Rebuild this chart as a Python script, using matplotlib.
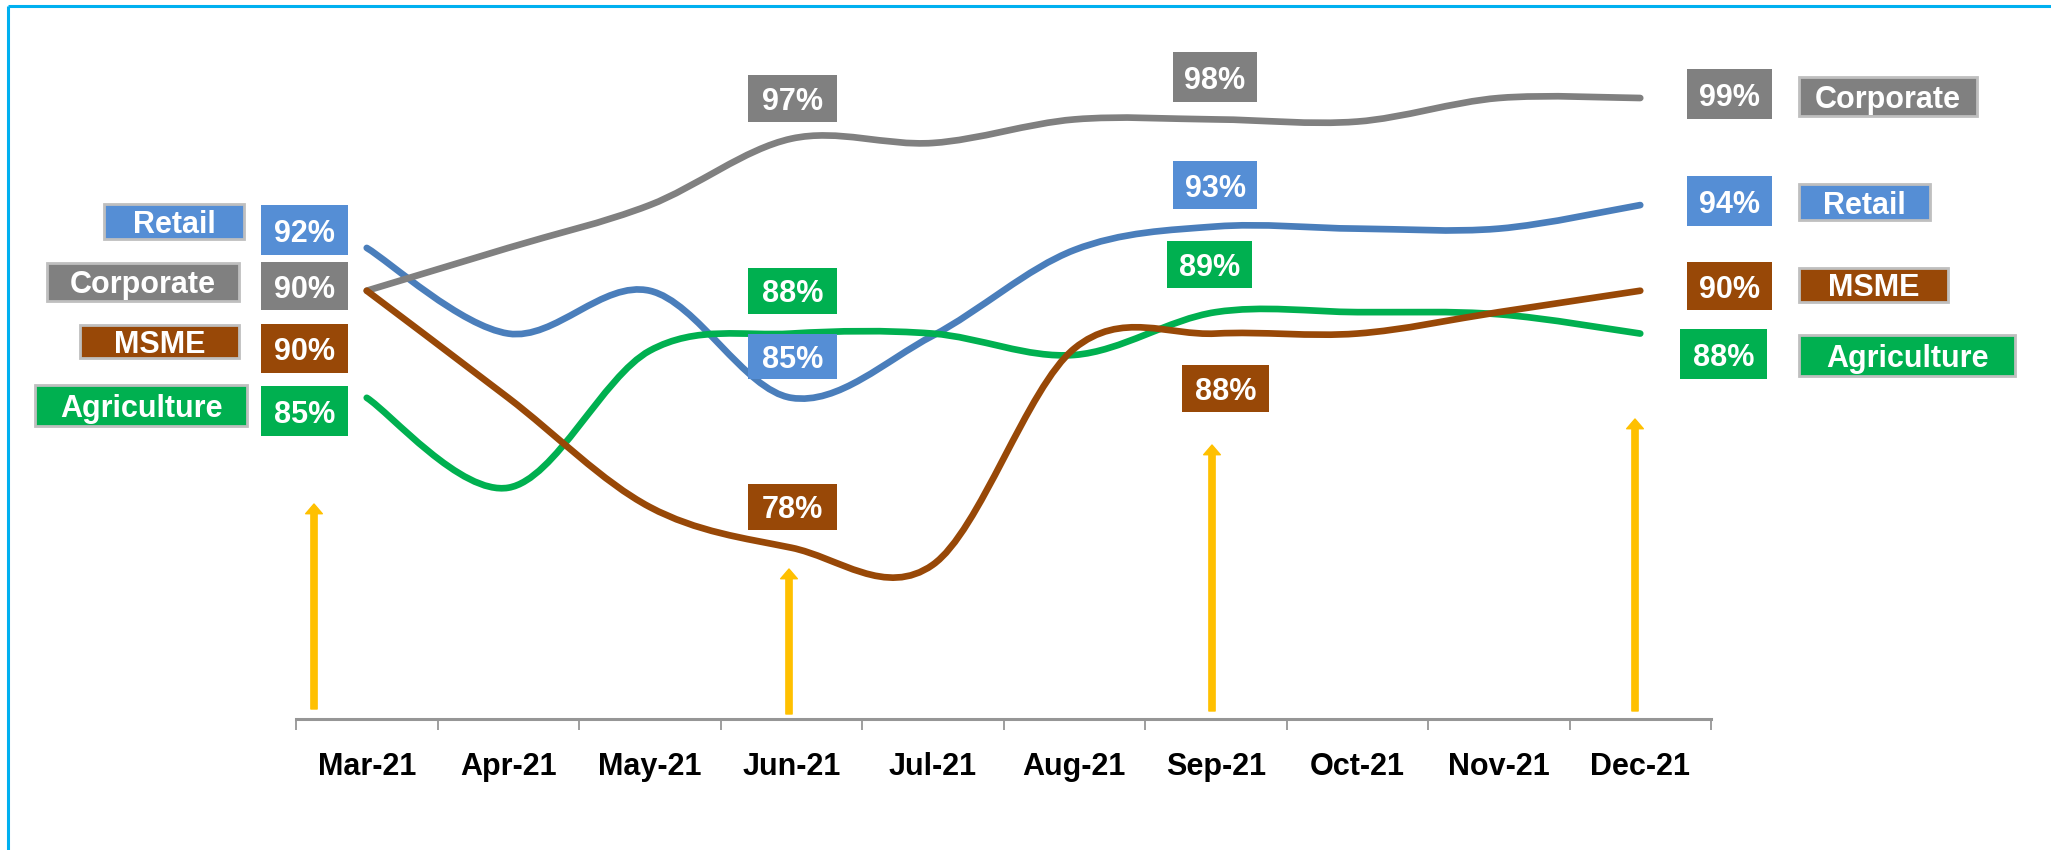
import numpy as np
import matplotlib
matplotlib.use('Agg')
import matplotlib.pyplot as plt
from matplotlib.path import Path
from matplotlib.patches import PathPatch, Rectangle

# ---------------- data ----------------
months = ['Mar-21', 'Apr-21', 'May-21', 'Jun-21', 'Jul-21',
          'Aug-21', 'Sep-21', 'Oct-21', 'Nov-21', 'Dec-21']
retail = [92, 88, 90, 85, 87.9, 91.9, 93, 92.9, 92.9, 94]
corporate = [90, 92, 94, 97.1, 96.9, 98, 98, 97.9, 99, 99]
msme = [90, 85, 79.9, 78, 77.2, 87.3, 88, 88, 89, 90]
agriculture = [85, 80.8, 87.2, 88, 88, 87, 89, 89, 88.9, 88]
series_names = ['Retail', 'Corporate', 'MSME', 'Agriculture']

# ---------------- styles ----------------
FONT = 'Liberation Sans'
box_colors = {'Retail': '#558ED5', 'Corporate': '#808080',
              'MSME': '#984807', 'Agriculture': '#00B050'}
line_colors = {'Retail': '#4A7EBB', 'Corporate': '#808080',
               'MSME': '#984807', 'Agriculture': '#00B050'}
values = {'Retail': retail, 'Corporate': corporate,
          'MSME': msme, 'Agriculture': agriculture}

W, H = 2051, 850
fig = plt.figure(figsize=(W / 100, H / 100), dpi=100)
fig.patch.set_facecolor('white')

ax_left, ax_right, ax_bottom, ax_top = 296, 1711, 719, 76.6
ax = fig.add_axes([ax_left / W, (H - ax_bottom) / H,
                   (ax_right - ax_left) / W, (ax_bottom - ax_top) / H])
ax.set_xlim(-0.5, 9.5)
ax.set_ylim(70, 100)
ax.patch.set_visible(False)
for s in ['top', 'left', 'right']:
    ax.spines[s].set_visible(False)
ax.spines['bottom'].set_color('#969696')
ax.spines['bottom'].set_linewidth(2.2)
ax.yaxis.set_visible(False)
ax.set_xticks(range(len(months)))
ax.set_xticklabels(months, fontsize=22, fontweight='bold', family=FONT)
ax.tick_params(axis='x', which='major', length=0, pad=24)
ax.set_xticks(np.arange(-0.5, len(months), 1.0), minor=True)
ax.tick_params(axis='x', which='minor', length=8, width=1.3, color='#969696')


def smooth_path(xs, ys):
    pts = np.column_stack([xs, ys]).astype(float)
    n = len(pts)
    verts = [pts[0]]
    codes = [Path.MOVETO]
    for i in range(n - 1):
        p0 = pts[i - 1] if i > 0 else pts[i]
        p1 = pts[i]
        p2 = pts[i + 1]
        p3 = pts[i + 2] if i + 2 < n else pts[i + 1]
        c1 = p1 + (p2 - p0) / 6.0
        c2 = p2 - (p3 - p1) / 6.0
        verts += [c1, c2, p2]
        codes += [Path.CURVE4] * 3
    return Path(verts, codes)


x = np.arange(len(months))
for name in ['Retail', 'Agriculture', 'Corporate', 'MSME']:
    patch = PathPatch(smooth_path(x, values[name]), fill=False,
                      edgecolor=line_colors[name], lw=4.8,
                      capstyle='round', joinstyle='round', zorder=3)
    ax.add_patch(patch)

# ---------------- overlay (pixel coordinates) ----------------
ov = fig.add_axes([0, 0, 1, 1])
ov.set_xlim(0, W)
ov.set_ylim(H, 0)
ov.axis('off')
ov.patch.set_visible(False)


def box(x0, x1, y0, y1, text, fc, ec=None):
    ov.add_patch(Rectangle((x0, y0), x1 - x0, y1 - y0, facecolor=fc,
                           edgecolor=ec if ec else 'none',
                           lw=2.0 if ec else 0, zorder=5))
    ov.text((x0 + x1) / 2, (y0 + y1) / 2, text, ha='center',
            va='center_baseline', color='white', fontsize=22,
            fontweight='bold', family=FONT, zorder=6)


def pct(v):
    return f"{v:.0f}%"


left_names = {'Retail': (104, 244, 204, 239), 'Corporate': (47, 239, 263, 301),
              'MSME': (80, 239, 325, 358), 'Agriculture': (35, 247, 385, 426)}
left_vals = {'Retail': (261, 348, 205, 255), 'Corporate': (261, 348, 262, 310),
             'MSME': (261, 348, 324, 373), 'Agriculture': (261, 348, 386, 436)}
jun_vals = {'Corporate': (748, 837, 75, 122), 'Agriculture': (748, 837, 268, 314),
            'Retail': (748, 837, 334, 379), 'MSME': (748, 837, 484, 530)}
sep_vals = {'Corporate': (1173, 1257, 52, 102), 'Retail': (1173, 1257, 161, 209),
            'Agriculture': (1167, 1252, 241, 288), 'MSME': (1182, 1269, 365, 412)}
right_vals = {'Corporate': (1687, 1772, 69, 119), 'Retail': (1687, 1772, 176, 226),
              'MSME': (1687, 1772, 262, 310), 'Agriculture': (1680, 1767, 329, 379)}
right_names = {'Corporate': (1799, 1977, 77, 116), 'Retail': (1799, 1930, 184, 220),
               'MSME': (1799, 1948, 268, 302), 'Agriculture': (1799, 2015, 335, 376)}

for name in series_names:
    v = values[name]
    box(*left_names[name], name, box_colors[name], ec='#BFBFBF')
    box(*left_vals[name], pct(v[0]), box_colors[name])
    box(*jun_vals[name], pct(v[3]), box_colors[name])
    box(*sep_vals[name], pct(v[6]), box_colors[name])
    box(*right_vals[name], pct(v[-1]), box_colors[name])
    box(*right_names[name], name, box_colors[name], ec='#BFBFBF')

# yellow arrows (decorative)
arrows = [(314, 504, 709), (789, 569, 714), (1212, 445, 711), (1635, 419, 711)]
for ax_x, top, bot in arrows:
    ov.annotate('', xy=(ax_x, top), xytext=(ax_x, bot),
                arrowprops=dict(width=4.5, headwidth=12, headlength=7,
                                color='#FFC000', shrink=0), zorder=4)

# cyan frame (top and left)
ov.plot([8, 8], [H, 6], color='#00B0F0', lw=2.2, solid_capstyle='butt')
ov.plot([8, W], [6, 6], color='#00B0F0', lw=2.2, solid_capstyle='butt')

fig.savefig('out.png', dpi=100)
